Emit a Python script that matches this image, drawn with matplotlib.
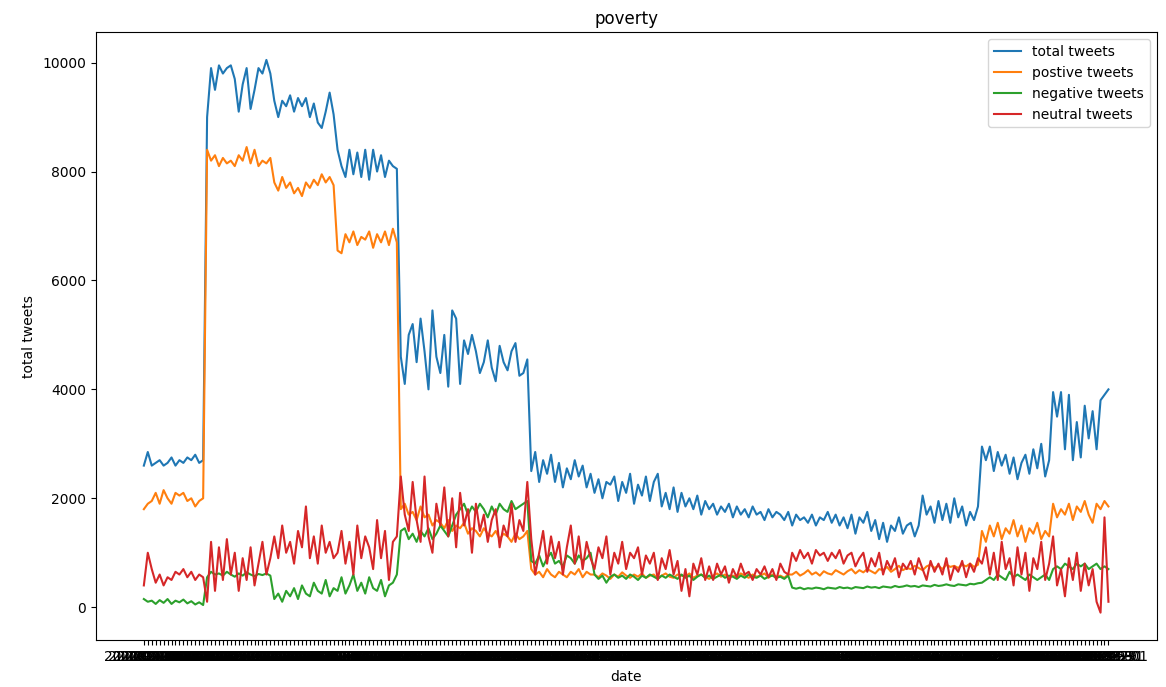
import matplotlib
matplotlib.use("Agg")
import matplotlib.pyplot as plt
import pandas as pd

# daily counts, one value per date
dates = list(pd.date_range("2020-01-01", periods=245).strftime("%Y-%m-%d"))

total = [
    2600, 2850, 2600, 2650, 2700, 2600, 2650, 2750, 2600, 2700, 2650, 2750, 2700, 2800, 2650, 2700,
    9000, 9900, 9500, 9950, 9800, 9900, 9950, 9700, 9100, 9600, 9900, 9150, 9500, 9900, 9800, 10050,
    9800, 9300, 9000, 9300, 9200, 9400, 9100, 9350, 9200, 9350, 9000, 9250, 8900, 8800, 9100, 9450, 9050,
    8400, 8100, 7900, 8400, 7950, 8350, 7900, 8400, 7850, 8400, 8000, 8300, 7900, 8200, 8100, 8050,
    4600, 4100, 5000, 5200, 4500, 5300, 4700, 4000, 5450, 4600, 4300, 5000, 4050, 5450, 5300, 4100,
    4900, 4650, 5000, 4700, 4300, 4500, 4900, 4400, 4150, 4800, 4500, 4350, 4700, 4850, 4250, 4300, 4550,
    2500, 2850, 2300, 2700, 2450, 2800, 2300, 2650, 2200, 2550, 2350, 2700, 2400, 2600, 2200, 2450,
    2100, 2350, 2000, 2300, 2250, 2400, 1950, 2300, 2100, 2450, 1900, 2250, 2050, 2400, 1950, 2300,
    2450, 1850, 2100, 1800, 2200, 1750, 2100, 1850, 2000, 1800, 2050, 1700, 1950, 1800, 1900, 1700,
    1850, 1750, 1900, 1650, 1850, 1700, 1800, 1650, 1850, 1700, 1750, 1600, 1800, 1650, 1750, 1700,
    1600, 1750, 1500, 1700, 1600, 1650, 1550, 1700, 1500, 1650, 1600, 1750, 1550, 1700, 1500, 1650,
    1450, 1700, 1350, 1650, 1550, 1750, 1400, 1600, 1250, 1550, 1200, 1500, 1400, 1650, 1350, 1500,
    1550, 1300, 1500, 2050, 1700, 1850, 1550, 1950, 1600, 1900, 1550, 2000, 1650, 1850, 1500, 1750,
    1600, 1850,
    2950, 2700, 2950, 2500, 2850, 2600, 2800, 2450, 2750, 2350, 2650, 2800, 2450, 2900, 2550, 3000,
    2400, 2700, 3950, 3500, 3950, 2900, 3900, 2700, 3400, 2750, 3700, 3100, 3600, 2900, 3800, 3900, 4000,
]

positive = [
    1800, 1900, 1950, 2100, 1900, 2150, 2000, 1900, 2100, 2050, 2100, 1950, 2000, 1850, 1950, 2000,
    8400, 8200, 8300, 8100, 8250, 8150, 8200, 8100, 8300, 8200, 8450, 8150, 8400, 8100, 8200, 8150, 8250,
    7800, 7650, 7900, 7700, 7800, 7600, 7700, 7550, 7800, 7700, 7850, 7750, 7950, 7800, 7900, 7750,
    6550, 6500, 6850, 6700, 6900, 6650, 6800, 6750, 6900, 6600, 6850, 6700, 6900, 6650, 6950, 6700,
    1800, 1900, 1700, 1750, 1600, 1850, 1650, 1700, 1500, 1600, 1550, 1450, 1600, 1400, 1500, 1450,
    1550, 1350, 1450, 1400, 1300, 1450, 1350, 1300, 1400, 1250, 1350, 1300, 1200, 1350, 1250, 1300, 1400,
    700, 600, 650, 550, 700, 600, 550, 650, 600, 550, 650, 600, 700, 550, 650, 600,
    600, 550, 620, 580, 520, 600, 560, 640, 580, 540, 600, 560, 620, 540, 580, 600, 520, 580, 620, 560,
    540, 600, 580, 560, 620, 540, 580, 600, 560, 520, 580, 620, 560, 600, 540, 580, 560, 620, 580, 540,
    600, 560, 580, 620, 540, 600, 560, 580, 540, 600,
    600, 650, 580, 620, 680, 600, 640, 580, 660, 620, 600, 680, 640, 600, 660, 700, 620, 680, 640, 700,
    660, 620, 700, 680, 740, 650, 700, 760, 680, 720, 700, 760, 720, 680, 750, 780, 720, 760, 700, 780,
    740, 760, 720, 780, 750, 800, 740, 780,
    1400, 1200, 1500, 1300, 1550, 1250, 1450, 1350, 1600, 1300, 1500, 1200, 1450, 1350, 1550, 1250,
    1400, 1300, 1900, 1650, 1800, 1700, 1900, 1600, 1850, 1750, 1950, 1700, 1550, 1900, 1800, 1950, 1850,
]

negative = [
    150, 100, 120, 60, 130, 80, 150, 60, 120, 90, 140, 70, 110, 50, 90, 40,
    550, 650, 600, 620, 580, 650, 600, 560, 620, 580, 640, 600, 570, 610, 590, 620, 580,
    150, 250, 100, 300, 200, 350, 150, 400, 250, 200, 450, 300, 250, 500, 200, 350,
    300, 550, 250, 400, 600, 300, 450, 250, 550, 350, 300, 500, 200, 400, 450, 600,
    1400, 1450, 1250, 1350, 1200, 1400, 1300, 1450, 1250, 1350, 1500, 1400, 1300, 1500, 1700,
    1800, 1900, 1700, 1850, 1750, 1900, 1800, 1650, 1850, 1700, 1900, 1800, 1750, 1950, 1800, 1850, 1900, 1950,
    850, 800, 950, 750, 900, 1000, 800, 850, 750, 950, 900, 800, 950, 850, 900, 1000,
    600, 520, 580, 450, 560, 600, 540, 580, 520, 600, 560, 500, 580, 540, 600, 560, 520, 580, 540, 600,
    560, 520, 600, 540, 580, 500, 560, 600, 540, 580, 520, 560, 600, 540, 580, 560, 520, 580, 540, 600,
    560, 540, 580, 520, 560, 580, 540, 560, 520, 580,
    360, 340, 360, 330, 350, 340, 360, 350, 330, 360, 350, 340, 370, 350, 360, 340, 370, 360, 350, 380,
    360, 370, 350, 380, 370, 360, 390, 370, 380, 400, 380, 390, 370, 400, 390, 380, 410, 390, 400, 420,
    400, 390, 420, 410, 400, 430, 420, 440,
    450, 500, 550, 500, 600, 550, 500, 650, 550, 600, 550, 500, 600, 550, 500, 550,
    600, 500, 700, 750, 700, 800, 750, 700, 800, 750, 800, 700, 750, 800, 700, 750, 700,
]

neutral = [
    400, 1000, 700, 450, 600, 400, 550, 500, 650, 600, 700, 550, 650, 500, 600, 550,
    100, 1200, 300, 1100, 500, 1250, 600, 1000, 300, 900, 500, 1100, 400, 800, 1200, 600, 900,
    1300, 900, 1500, 1000, 1200, 800, 1400, 1100, 1850, 900, 1300, 800, 1500, 1000, 1200, 900,
    1000, 1400, 800, 1200, 600, 1500, 900, 1300, 1100, 700, 1600, 900, 1400, 500, 1200, 1300,
    2400, 1700, 1400, 2300, 1600, 1200, 2400, 1300, 1000, 1900, 1500, 2200, 1300, 2000, 1100, 2100,
    1500, 1800, 1000, 1900, 1400, 1700, 1200, 1600, 1800, 1100, 1500, 1300, 1900, 1200, 1600, 1400, 2300,
    1250, 600, 1000, 1400, 800, 1300, 900, 1200, 600, 1100, 1500, 800, 1300, 700, 1200, 900,
    700, 1100, 900, 1300, 600, 1000, 800, 1200, 700, 1000, 900, 1100, 600, 950, 800, 1000,
    500, 900, 700, 1050, 600, 850, 300, 700, 200, 800, 600, 900, 500, 750,
    500, 800, 600, 750, 450, 700, 550, 800, 600, 650, 500, 700, 600, 750, 550, 700, 500, 800, 650, 600,
    1000, 850, 1050, 900, 1000, 800, 1050, 950, 1000, 850, 1000, 900, 1050, 800, 950, 1000,
    750, 900, 1000, 650, 900, 750, 1000, 600, 850, 700, 900, 550, 800, 700, 850, 600,
    900, 700, 500, 850, 650, 800, 600, 900, 500, 750, 650, 850, 550, 800, 650, 900,
    800, 1100, 600, 1000, 500, 1200, 700, 900, 400, 1100, 600, 1000, 300, 900, 700, 1200,
    500, 800, 1300, 400, 700, 200, 900, 500, 1000, 300, 800, 400, 700, 100, -100, 1650, 100,
]

for s in (total, positive, negative, neutral):
    assert len(s) == len(dates), len(s)

fig, ax = plt.subplots(figsize=(11.66, 6.87), dpi=100)
ax.plot(dates, total, label="total tweets")
ax.plot(dates, positive, label="postive tweets")
ax.plot(dates, negative, label="negative tweets")
ax.plot(dates, neutral, label="neutral tweets")

ax.set_title("poverty")
ax.set_xlabel("date")
ax.set_ylabel("total tweets")
ax.legend(loc="upper right")

fig.subplots_adjust(left=0.082, right=0.992, top=0.953, bottom=0.068)
fig.savefig("out.png", dpi=100)
